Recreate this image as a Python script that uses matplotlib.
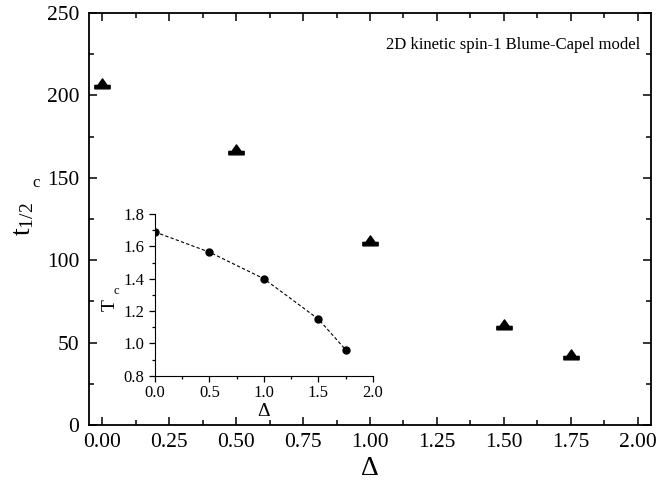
import matplotlib.pyplot as plt
import numpy as np
from matplotlib.path import Path
from matplotlib.ticker import MultipleLocator

plt.rcParams['font.family'] = ['Liberation Serif', 'DejaVu Serif']
plt.rcParams['mathtext.fontset'] = 'custom'
plt.rcParams['mathtext.rm'] = 'Liberation Serif'
plt.rcParams['mathtext.it'] = 'Liberation Serif:italic'

# half-life at the critical point vs crystal field
delta = [0.0, 0.5, 1.0, 1.5, 1.75]
t_half = [207.5, 167.5, 112.5, 61.5, 43.0]

# critical temperature (inset)
delta_in = [0.0, 0.5, 1.0, 1.5, 1.75]
t_crit = [1.69, 1.565, 1.40, 1.15, 0.96]

# triangle sitting on a short bar
tri_bar = Path([(-1.0, -0.7), (1.0, -0.7), (1.0, -0.25), (0.6, -0.25),
                (0.0, 0.6), (-0.6, -0.25), (-1.0, -0.25), (-1.0, -0.7)],
               [Path.MOVETO] + [Path.LINETO] * 6 + [Path.CLOSEPOLY])

fig = plt.figure(figsize=(6.59, 4.94), dpi=100)
ax = fig.add_axes([0.135, 0.1397, 0.853, 0.834])

ax.plot(delta, t_half, linestyle='none', marker=tri_bar, color='black',
        ms=11, zorder=5)

ax.set_xlim(-0.05, 2.05)
ax.set_ylim(0, 250)
ax.xaxis.set_minor_locator(MultipleLocator(0.125))
ax.yaxis.set_major_locator(MultipleLocator(50))
ax.yaxis.set_minor_locator(MultipleLocator(25))
xt = np.arange(0, 2.01, 0.25)
ax.set_xticks(xt)
ax.set_xticklabels(['%.2f' % v for v in xt])
ax.tick_params(which='both', direction='in', top=True, right=True,
               labelsize=15.5, width=1.1)
ax.tick_params(which='major', length=6)
ax.tick_params(which='minor', length=3.5)
ax.tick_params(axis='x', pad=6)
ax.tick_params(axis='y', pad=7)
for s in ax.spines.values():
    s.set_linewidth(1.3)

ax.set_xlabel('Δ', fontsize=20, labelpad=3)
ax.set_ylabel(r'$\mathrm{t}_{\mathrm{1/2}}$', fontsize=20, labelpad=8)
fig.text(0.055, 0.63, 'c', fontsize=12, ha='center', va='center')

ax.text(0.98, 0.922, '2D kinetic spin-1 Blume-Capel model', transform=ax.transAxes,
        ha='right', va='center', fontsize=12)

# inset: Tc vs delta
ins = fig.add_axes([0.235, 0.2395, 0.331, 0.327])
ins.patch.set_alpha(0)
ins.plot(delta_in, t_crit, color='black', lw=0.8, dashes=(3, 2))
ins.plot(delta_in, t_crit, 'o', color='black', ms=5)
ins.set_xlim(0, 2.0)
ins.set_ylim(0.8, 1.8)
ins.xaxis.set_major_locator(MultipleLocator(0.5))
ins.xaxis.set_minor_locator(MultipleLocator(0.25))
ins.yaxis.set_major_locator(MultipleLocator(0.2))
ins.yaxis.set_minor_locator(MultipleLocator(0.1))
ins.spines['top'].set_visible(False)
ins.spines['right'].set_visible(False)
ins.tick_params(which='both', direction='out', labelsize=12, width=0.9)
ins.tick_params(which='major', length=4)
ins.tick_params(which='minor', length=2.5)
ins.tick_params(axis='x', pad=3)
ins.set_xlabel('Δ', fontsize=14, labelpad=1)
ins.set_ylabel('T', fontsize=14)
ins.yaxis.set_label_coords(-0.165, 0.44)
fig.text(0.177, 0.41, 'c', fontsize=9, ha='center', va='center')

fig.savefig('out.png', dpi=100)
